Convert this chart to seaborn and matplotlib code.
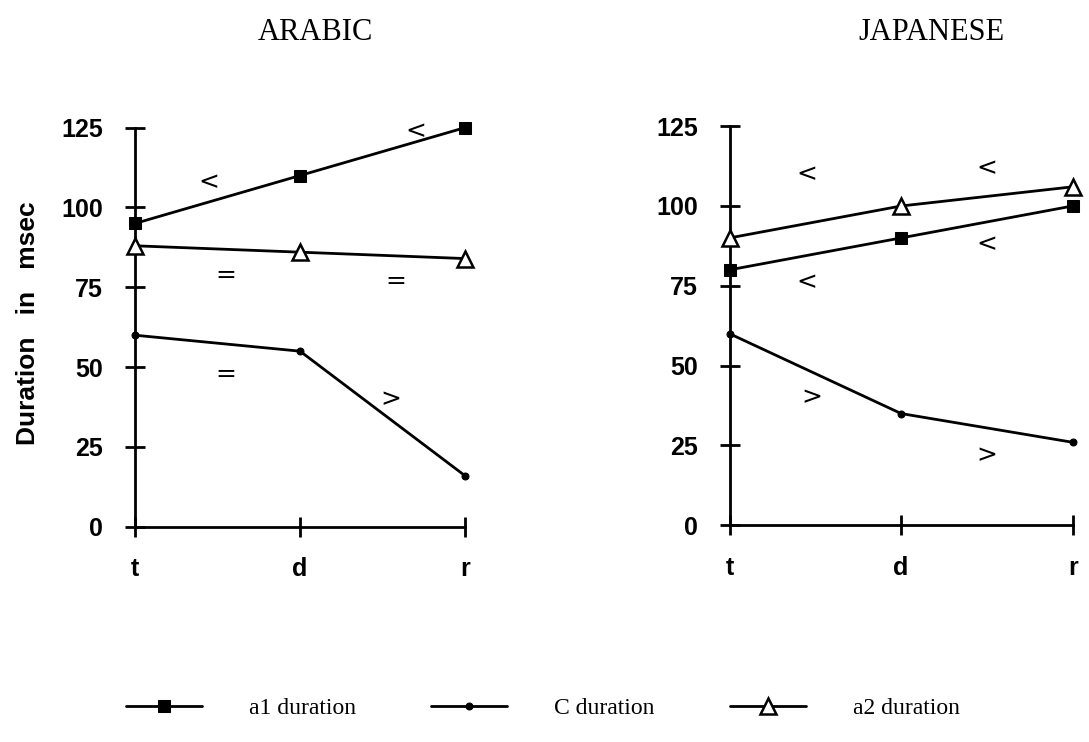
import numpy as np
import pandas as pd
import matplotlib
matplotlib.use("Agg")
import matplotlib.pyplot as plt
import seaborn as sns

# consonant categories on the x axis
consonants = ["t", "d", "r"]

# ARABIC panel (msec)
arabic_a1 = [95, 110, 125]
arabic_c = [60, 55, 16]
arabic_a2 = [88, 86, 84]

# JAPANESE panel (msec)
japanese_a1 = [80, 90, 100]
japanese_c = [60, 35, 26]
japanese_a2 = [90, 100, 106]

# comparison signs (x position, y value, text)
arabic_signs = [(0.45, 108, "<"), (1.7, 124, "<"), (0.55, 79, "="),
                (1.58, 77, "="), (0.55, 48, "="), (1.55, 40, ">")]
japanese_signs = [(0.45, 110, "<"), (1.5, 112, "<"), (1.5, 88, "<"),
                  (0.45, 76, "<"), (0.48, 40, ">"), (1.5, 22, ">")]

y_ticks = [0, 25, 50, 75, 100, 125]

sns.set_style("white")
plt.rcParams["font.family"] = ["Liberation Sans", "DejaVu Sans"]
plt.rcParams["text.color"] = "black"
plt.rcParams["xtick.color"] = "black"
plt.rcParams["ytick.color"] = "black"

fig = plt.figure(figsize=(10.89, 7.42), dpi=100)
ax_ar = fig.add_axes([0.124, 0.290, 0.303, 0.538])
ax_jp = fig.add_axes([0.670, 0.292, 0.315, 0.538])

series_style = {
    "a1 duration": dict(marker="s", markersize=9, markerfacecolor="black",
                        markeredgecolor="black"),
    "C duration": dict(marker="o", markersize=5, markerfacecolor="black",
                       markeredgecolor="black"),
    "a2 duration": dict(marker="^", markersize=12, markerfacecolor="white",
                        markeredgecolor="black", markeredgewidth=1.8),
}


def draw_panel(ax, a1, c, a2, signs):
    df = pd.DataFrame({
        "consonant": np.tile(np.arange(len(consonants)), 3),
        "duration": a1 + c + a2,
        "series": ["a1 duration"] * 3 + ["C duration"] * 3 + ["a2 duration"] * 3,
    })
    for name, style in series_style.items():
        sub = df[df["series"] == name]
        sns.lineplot(data=sub, x="consonant", y="duration", ax=ax,
                     color="black", linewidth=2, label=name, legend=False,
                     clip_on=False, zorder=3, **style)
    for x, y, s in signs:
        ax.text(x, y, s, ha="center", va="center", fontsize=18,
                fontfamily="DejaVu Sans")

    ax.set_xlim(0, 2)
    ax.set_ylim(0, 125)
    ax.set_xticks(range(len(consonants)))
    ax.set_xticklabels(consonants, fontsize=18, fontweight="bold")
    ax.set_yticks(y_ticks)
    ax.set_yticklabels([str(v) for v in y_ticks], fontsize=18, fontweight="bold")
    ax.tick_params(axis="both", direction="inout", length=14, width=2,
                   color="black", bottom=True, left=True)
    ax.tick_params(axis="x", pad=15)
    ax.tick_params(axis="y", pad=16)
    for side in ["top", "right"]:
        ax.spines[side].set_visible(False)
    for side in ["left", "bottom"]:
        ax.spines[side].set_linewidth(2)
        ax.spines[side].set_color("black")
    ax.set_xlabel("")
    ax.set_ylabel("")


draw_panel(ax_ar, arabic_a1, arabic_c, arabic_a2, arabic_signs)
draw_panel(ax_jp, japanese_a1, japanese_c, japanese_a2, japanese_signs)

fig.text(315 / 1089, 1 - 32 / 742, "ARABIC", ha="center", va="center",
         fontsize=22, fontfamily="Liberation Serif")
fig.text(931 / 1089, 1 - 33 / 742, "JAPANESE", ha="center", va="center",
         fontsize=22, fontfamily="Liberation Serif")
fig.text(28 / 1089, 1 - 323 / 742, "Duration   in   msec", rotation=90,
         ha="center", va="center", fontsize=19, fontweight="bold")

handles, labels = ax_ar.get_legend_handles_labels()
fig.legend(handles, labels, loc="center", bbox_to_anchor=(543 / 1089, 1 - 708 / 742),
           ncol=3, frameon=False, handlelength=3.2, handletextpad=2.0,
           columnspacing=3.2, prop={"family": "Liberation Serif", "size": 17})

fig.savefig("out.png", dpi=100)
